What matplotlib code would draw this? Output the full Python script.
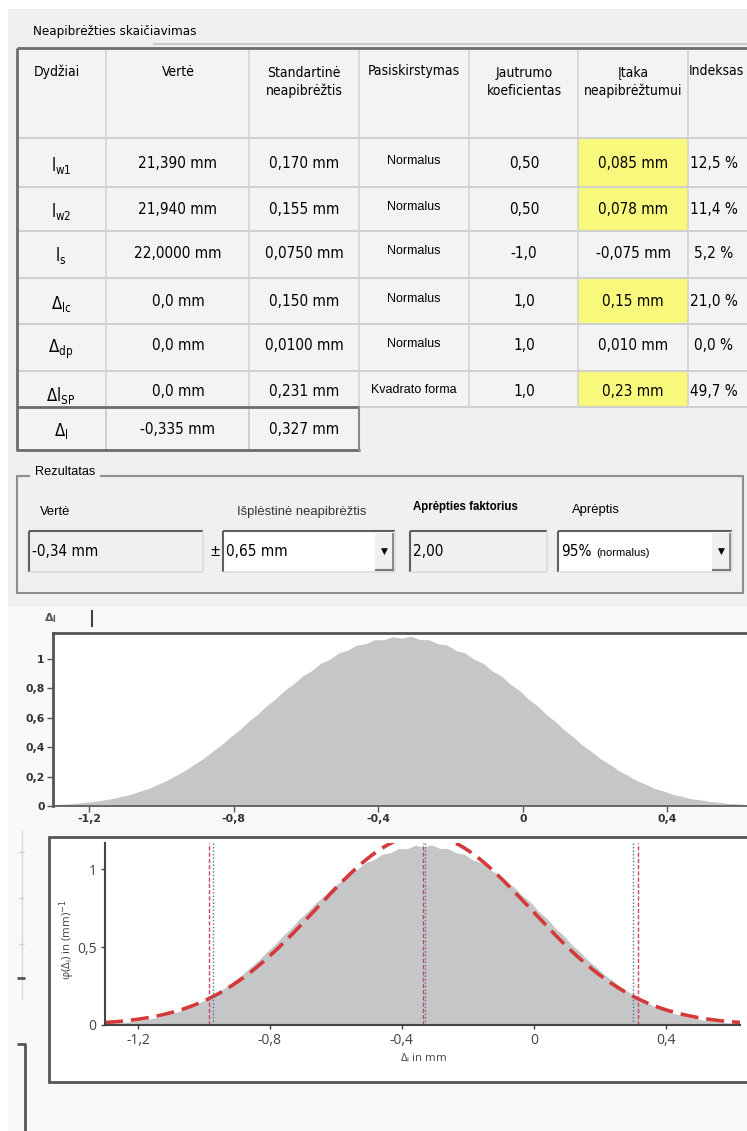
import numpy as np
import matplotlib
matplotlib.use("Agg")
import matplotlib.pyplot as plt
from matplotlib.patches import Rectangle
from matplotlib.ticker import FuncFormatter

# ---------------- data ----------------
quantities = [r"$\mathregular{l_{w1}}$", r"$\mathregular{l_{w2}}$", r"$\mathregular{l_{s}}$",
              r"$\mathregular{\Delta_{lc}}$", r"$\mathregular{\Delta_{dp}}$", r"$\mathregular{\Delta l_{SP}}$"]
values = ["21,390 mm", "21,940 mm", "22,0000 mm", "0,0 mm", "0,0 mm", "0,0 mm"]
std_uncert = ["0,170 mm", "0,155 mm", "0,0750 mm", "0,150 mm", "0,0100 mm", "0,231 mm"]
distributions = ["Normalus", "Normalus", "Normalus", "Normalus", "Normalus", "Kvadrato forma"]
sensitivity = ["0,50", "0,50", "-1,0", "1,0", "1,0", "1,0"]
contribution = ["0,085 mm", "0,078 mm", "-0,075 mm", "0,15 mm", "0,010 mm", "0,23 mm"]
index_pct = ["12,5 %", "11,4 %", "5,2 %", "21,0 %", "0,0 %", "49,7 %"]
highlighted = [True, True, False, True, False, True]

result_symbol = r"$\mathregular{\Delta_{l}}$"
result_value = "-0,335 mm"
result_uncert = "0,327 mm"

result_mean = -0.335          # mm
result_sd = 0.327             # mm
expanded_U = 0.65             # mm
coverage_k = "2,00"
mc_interval = [-0.972, -0.330, 0.300]   # Monte Carlo coverage interval and estimate

# Monte Carlo histogram of the output quantity (density in 1/mm)
hist_start = -1.310
hist_width = 0.025
hist_density = [0.008, 0.012, 0.014, 0.019, 0.026, 0.032, 0.041, 0.051, 0.066, 0.080,
                0.100, 0.120, 0.147, 0.174, 0.208, 0.241, 0.283, 0.322, 0.369, 0.414,
                0.468, 0.516, 0.574, 0.622, 0.681, 0.728, 0.786, 0.829, 0.884, 0.920,
                0.970, 0.998, 1.041, 1.060, 1.095, 1.104, 1.132, 1.130, 1.152, 1.141,
                1.155, 1.132, 1.131, 1.104, 1.095, 1.058, 1.042, 0.997, 0.971, 0.919,
                0.885, 0.829, 0.787, 0.727, 0.682, 0.621, 0.575, 0.515, 0.469, 0.413,
                0.370, 0.321, 0.284, 0.240, 0.209, 0.173, 0.148, 0.119, 0.101, 0.079,
                0.066, 0.050, 0.042, 0.031, 0.026, 0.018, 0.015, 0.010]

top_xticks = [-1.2, -0.8, -0.4, 0, 0.4]
top_yticks = [0, 0.2, 0.4, 0.6, 0.8, 1]
bot_yticks = [0, 0.5, 1]

# ---------------- figure ----------------
W, H = 747, 1131
fig = plt.figure(figsize=(W / 100, H / 100), dpi=100, facecolor="white")
ax0 = fig.add_axes([0, 0, 1, 1])
ax0.set_xlim(0, W)
ax0.set_ylim(H, 0)
ax0.axis("off")

NARROW = ["DejaVu Sans"]
SANS = ["Liberation Sans", "DejaVu Sans"]
OPEN = ["Open Sans", "DejaVu Sans"]


def txt(x, y, s, size=12, ha="center", va="center", family=NARROW, **kw):
    if family is NARROW:
        kw.setdefault("fontstretch", "condensed")
    ax0.text(x, y, s, fontsize=size, ha=ha, va=va, family=family, **kw)


def rect(x0, y0, x1, y1, **kw):
    ax0.add_patch(Rectangle((x0, y0), x1 - x0, y1 - y0, **kw))


def hline(y, x0, x1, **kw):
    ax0.plot([x0, x1], [y, y], solid_capstyle="butt", **kw)


def vline(x, y0, y1, **kw):
    ax0.plot([x, x], [y0, y1], solid_capstyle="butt", **kw)


# dialog panel
rect(8, 9, W, 607, facecolor="#f0f0f0", edgecolor="none")
rect(8, 607, W, H, facecolor="#f9f9f9", edgecolor="none")
txt(33, 32, "Neapibrėžties skaičiavimas", size=9.5, ha="left")
hline(44, 153, W, color="#c9c9c9", lw=1.5)

# ---------------- table ----------------
col_edges = [17, 106, 249, 359, 469, 578, 688, 760]
row_edges = [48, 138, 187, 231, 278, 324, 371, 407, 450]
col_centers = [61, 178, 304, 414, 524, 633, 714]

rect(17, 48, W, 407, facecolor="#f3f3f3", edgecolor="none")
rect(17, 407, 359, 450, facecolor="#f3f3f3", edgecolor="none")
for i, hl in enumerate(highlighted):
    if hl:
        rect(578, row_edges[i + 1] + 1, 688, row_edges[i + 2] - 1,
             facecolor="#f8f87c", edgecolor="none")

for y in row_edges[1:7]:
    hline(y, 17, W, color="#cdcdcd", lw=1.3)
hline(407, 359, W, color="#cdcdcd", lw=1.3)
for x in col_edges[1:7]:
    vline(x, 48, 407, color="#d0d0d0", lw=1.1)
for x in col_edges[1:3]:
    vline(x, 407, 450, color="#c4c4c4", lw=1.1)

hline(48, 17, W, color="#6c6c6c", lw=2)
vline(17, 48, 451, color="#6c6c6c", lw=2)
hline(407, 17, 359, color="#6c6c6c", lw=2)
hline(450, 17, 360, color="#6c6c6c", lw=2)
vline(359, 407, 451, color="#8a8a8a", lw=1.5)

headers = [("Dydžiai", 57, 72), ("Vertė", 178, 72), ("Standartinė\nneapibrėžtis", 304, 82),
           ("Pasiskirstymas", 414, 71), ("Jautrumo\nkoeficientas", 524, 82),
           ("Įtaka\nneapibrėžtumui", 633, 82)]
for s, x, y in headers:
    txt(x, y, s, size=10, linespacing=1.3)
txt(689, 71, "Indeksas", size=10, ha="left")

row_mid = [163, 209, 253, 301, 346, 392]
for i in range(6):
    y = row_mid[i]
    txt(col_centers[0], y + 3, quantities[i], size=12)
    txt(col_centers[1], y, values[i], size=11)
    txt(col_centers[2], y, std_uncert[i], size=11)
    txt(col_centers[3], y - 2, distributions[i], size=9, family=SANS)
    txt(col_centers[4], y, sensitivity[i], size=11)
    txt(col_centers[5], y, contribution[i], size=11)
    txt(col_centers[6], y, index_pct[i], size=11)

txt(col_centers[0], 431, result_symbol, size=12)
txt(col_centers[1], 430, result_value, size=11)
txt(col_centers[2], 430, result_uncert, size=11)

# ---------------- result group ----------------
rect(17, 476, 743, 593, facecolor="none", edgecolor="#8e8e8e", lw=1.5)
rect(30, 468, 100, 482, facecolor="#f0f0f0", edgecolor="none")
txt(35, 472, "Rezultatas", size=9.2, ha="left", family=SANS)

txt(40, 512, "Vertė", size=9.4, ha="left", family=SANS)
txt(237, 512, "Išplėstinė neapibrėžtis", size=9.4, ha="left", family=SANS, color="#333333")
txt(413, 507, "Aprėpties faktorius", size=8.3, ha="left", family=SANS, weight="bold")
txt(572, 510, "Aprėptis", size=9.4, ha="left", family=SANS)


def field(x0, x1, face, text, arrow=False):
    y0, y1 = 531, 572
    rect(x0, y0, x1, y1, facecolor=face, edgecolor="none")
    hline(y0, x0, x1, color="#5f5f5f", lw=1.5)
    vline(x0, y0, y1, color="#5f5f5f", lw=1.5)
    hline(y1, x0, x1, color="#dcdcdc", lw=1.2)
    vline(x1, y0, y1, color="#dcdcdc", lw=1.2)
    if arrow:
        rect(x1 - 20, y0 + 2, x1 - 1, y1 - 1, facecolor="#f0f0f0", edgecolor="none")
        hline(y1 - 2, x1 - 20, x1 - 1, color="#7a7a7a", lw=1.5)
        vline(x1 - 2, y0 + 2, y1 - 1, color="#7a7a7a", lw=1.2)
        txt(x1 - 11, y0 + 20, "▼", size=6.5, family=["DejaVu Sans"])
    if text:
        txt(x0 + 3, 551, text, size=11, ha="left")


field(29, 203, "#f0f0f0", "-0,34 mm")
txt(215, 551, "±", size=12, family=SANS)
field(223, 395, "#ffffff", "0,65 mm", arrow=True)
field(410, 547, "#f0f0f0", coverage_k)
field(558, 732, "#ffffff", None, arrow=True)
txt(561, 551, "95%", size=11, ha="left")
txt(596, 553, "(normalus)", size=8, ha="left", family=SANS)

# ---------------- side decorations ----------------
txt(50, 618, r"$\mathregular{\Delta_l}$", size=8, family=["DejaVu Sans"], weight="bold",
    color="#555555", fontstretch="normal")
vline(92, 610, 627, color="#444444", lw=1.5)
vline(22, 830, 1000, color="#d8d8d8", lw=1)
for y in [852, 898, 944]:
    hline(y, 19, 24, color="#cfcfcf", lw=1)
hline(978, 17, 25, color="#555555", lw=2)
hline(1044, 17, 26, color="#555555", lw=2)
vline(25, 1044, H, color="#555555", lw=2)

# bottom chart frame
rect(49, 837, 760, 1082, facecolor="white", edgecolor="#555555", lw=2)


def comma(v, _):
    return ("%g" % v).replace(".", ",")


def fpos(x0, y0, x1, y1):
    return [x0 / W, 1 - y1 / H, (x1 - x0) / W, (y1 - y0) / H]


centers = hist_start + hist_width * np.arange(len(hist_density))

# ---------------- top chart ----------------
ax1 = fig.add_axes(fpos(53, 633, 747, 806))
ax1.set_facecolor("white")
ax1.fill_between(centers, hist_density, color="#c5c6c8", lw=0)
ax1.set_xlim(-1.3, 0.62)
ax1.set_ylim(0, 1.177)
ax1.set_xticks(top_xticks)
ax1.set_yticks(top_yticks)
ax1.xaxis.set_major_formatter(FuncFormatter(comma))
ax1.yaxis.set_major_formatter(FuncFormatter(comma))
for sp in ["left", "top"]:
    ax1.spines[sp].set_color("#555555")
    ax1.spines[sp].set_linewidth(2)
ax1.spines["bottom"].set_color("#555555")
ax1.spines["bottom"].set_linewidth(1.2)
ax1.spines["right"].set_visible(False)
ax1.tick_params(length=4, width=1, colors="#555555", labelcolor="#333333", pad=2)
for lab in ax1.get_xticklabels() + ax1.get_yticklabels():
    lab.set_family("DejaVu Sans")
    lab.set_fontweight("bold")
    lab.set_fontsize(7.8)

# ---------------- bottom chart ----------------
ax2 = fig.add_axes(fpos(105, 843, 740, 1025))
ax2.set_facecolor("none")
ax2.fill_between(centers, hist_density, color="#c5c6c8", lw=0)
xs = np.linspace(-1.3, 0.625, 400)
pdf = np.exp(-0.5 * ((xs - result_mean) / result_sd) ** 2) / (result_sd * np.sqrt(2 * np.pi))
ax2.plot(xs, pdf, color="#d43a3a", lw=2.6, dashes=(5, 2.2))
for xv in [result_mean - expanded_U, result_mean, result_mean + expanded_U]:
    ax2.axvline(xv, color="#c8485e", lw=1, dashes=(3, 1.5))
for xv in mc_interval:
    ax2.axvline(xv, color="#5b6aa0", lw=1, ls=(0, (1, 1.5)))
ax2.set_xlim(-1.3, 0.625)
ax2.set_ylim(0, 1.167)
ax2.set_xticks(top_xticks)
ax2.set_yticks(bot_yticks)
ax2.xaxis.set_major_formatter(FuncFormatter(comma))
ax2.yaxis.set_major_formatter(FuncFormatter(comma))
for sp in ["top", "right"]:
    ax2.spines[sp].set_visible(False)
for sp in ["left", "bottom"]:
    ax2.spines[sp].set_color("#444444")
    ax2.spines[sp].set_linewidth(1.5)
ax2.tick_params(length=3, width=1, colors="#444444", labelcolor="#444444", pad=3)
for lab in ax2.get_xticklabels() + ax2.get_yticklabels():
    lab.set_family(OPEN)
    lab.set_fontsize(10)

txt(67, 940, r"φ($\mathregular{\Delta_l}$) in (mm)$^{-1}$", size=8.2, family=OPEN,
    rotation=90, color="#444444")
txt(423, 1058, r"$\mathregular{\Delta_l}$ in mm", size=8.2, family=OPEN, color="#444444")

fig.savefig("out.png", dpi=100, facecolor="white")
